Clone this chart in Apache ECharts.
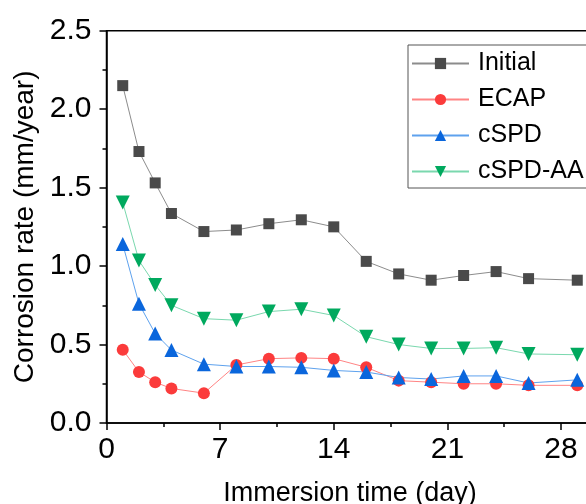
<!DOCTYPE html>
<html>
<head>
<meta charset="utf-8">
<script src="https://cdn.jsdelivr.net/npm/echarts@6/dist/echarts.min.js"></script>
<style>
html,body{margin:0;padding:0;background:#fff;}
#chart{width:586px;height:504px;}
</style>
</head>
<body>
<div id="chart"></div>
<script>
var days = [1, 2, 3, 4, 6, 8, 10, 12, 14, 16, 18, 20, 22, 24, 26, 29];
var initialRate = [2.15, 1.73, 1.53, 1.335, 1.22, 1.23, 1.27, 1.295, 1.25, 1.03, 0.95, 0.91, 0.94, 0.965, 0.92, 0.91];
var ecapRate = [0.467, 0.325, 0.26, 0.22, 0.19, 0.37, 0.41, 0.415, 0.41, 0.355, 0.27, 0.26, 0.25, 0.25, 0.24, 0.24];
var cspdRate = [1.14, 0.76, 0.57, 0.465, 0.375, 0.36, 0.36, 0.355, 0.335, 0.325, 0.29, 0.28, 0.30, 0.30, 0.255, 0.275];
var cspdAaRate = [1.405, 1.035, 0.88, 0.75, 0.665, 0.655, 0.71, 0.725, 0.685, 0.55, 0.5, 0.475, 0.475, 0.48, 0.44, 0.435];
var seriesNames = ['Initial', 'ECAP', 'cSPD', 'cSPD-AA'];
var xTicks = [0, 7, 14, 21, 28];
var yTicks = [0.0, 0.5, 1.0, 1.5, 2.0, 2.5];

function pairs(vals) {
  return days.map(function (d, i) { return [d, vals[i]]; });
}

var FONT = '"Liberation Sans", Arial, sans-serif';
var chart = echarts.init(document.getElementById('chart'), null, {renderer: 'canvas'});

var option = {
  backgroundColor: '#ffffff',
  animation: false,
  grid: {
    left: 106.5, top: 30.7, width: 487, height: 392.3,
    show: true, borderColor: '#000', borderWidth: 1.5, backgroundColor: 'transparent',
    outerBoundsMode: 'none', containLabel: false
  },
  legend: {
    orient: 'vertical',
    left: 408, top: 45,
    data: seriesNames,
    backgroundColor: '#fff',
    borderColor: '#555', borderWidth: 1,
    padding: [6, 30, 4, 3],
    itemWidth: 57, itemHeight: 14, itemGap: 11,
    textStyle: {fontFamily: FONT, fontSize: 25, color: '#000', padding: [0, 0, 0, 4]}
  },
  xAxis: {
    type: 'value', min: 0, max: 30, interval: 7,
    name: 'Immersion time (day)', nameLocation: 'middle', nameGap: 57,
    nameTextStyle: {fontFamily: FONT, fontSize: 27, color: '#000'},
    axisLine: {show: true, onZero: false, lineStyle: {color: '#000', width: 1.5}},
    axisTick: {show: true, inside: false, length: 7, lineStyle: {color: '#000', width: 1.5}},
    minorTick: {show: true, splitNumber: 2, length: 4, lineStyle: {color: '#000', width: 1.5}},
    splitLine: {show: false},
    axisLabel: {
      fontFamily: FONT, fontSize: 30, color: '#000', margin: 12,
      customValues: xTicks,
      formatter: function (v) { return String(v); }
    }
  },
  yAxis: {
    type: 'value', min: 0, max: 2.5, interval: 0.5,
    name: 'Corrosion rate (mm/year)', nameLocation: 'middle', nameGap: 64,
    nameTextStyle: {fontFamily: FONT, fontSize: 28, color: '#000'},
    axisLine: {show: true, onZero: false, lineStyle: {color: '#000', width: 1.5}},
    axisTick: {show: true, inside: false, length: 7, lineStyle: {color: '#000', width: 1.5}},
    minorTick: {show: true, splitNumber: 2, length: 4, lineStyle: {color: '#000', width: 1.5}},
    splitLine: {show: false},
    axisLabel: {
      fontFamily: FONT, fontSize: 30, color: '#000', margin: 15,
      formatter: function (v) { return v.toFixed(1); }
    }
  },
  series: [
    {
      name: 'Initial', type: 'line', data: pairs(initialRate),
      symbol: 'rect', symbolSize: 11,
      itemStyle: {color: '#4a4a4a'},
      lineStyle: {color: '#8c8c8c', width: 1}
    },
    {
      name: 'ECAP', type: 'line', data: pairs(ecapRate),
      symbol: 'circle', symbolSize: 12,
      itemStyle: {color: '#fb3b3b'},
      lineStyle: {color: '#ff8484', width: 1}
    },
    {
      name: 'cSPD', type: 'line', data: pairs(cspdRate),
      symbol: 'triangle', symbolSize: 14,
      itemStyle: {color: '#0a66dc'},
      lineStyle: {color: '#5ea2ee', width: 1}
    },
    {
      name: 'cSPD-AA', type: 'line', data: pairs(cspdAaRate),
      symbol: 'triangle', symbolSize: 14, symbolRotate: 180,
      itemStyle: {color: '#00a95e'},
      lineStyle: {color: '#7ad8ae', width: 1}
    }
  ]
};
chart.setOption(option);
</script>
</body>
</html>
